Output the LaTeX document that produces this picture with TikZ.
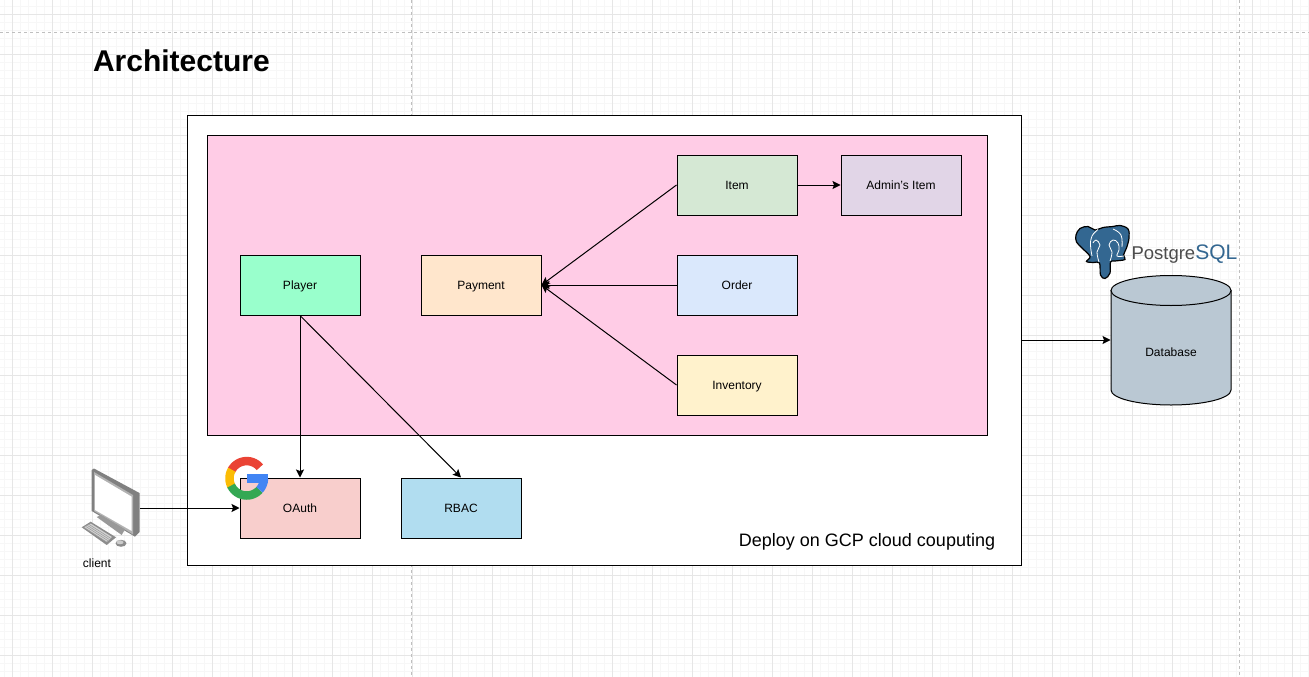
\documentclass[tikz,border=0pt]{standalone}
\usepackage{fontspec}
\setmainfont{Liberation Sans}
\usetikzlibrary{positioning,arrows.meta}
\definecolor{gridminor}{HTML}{F7F7F7}
\definecolor{gridmajor}{HTML}{E6E6E6}
\definecolor{pinkbg}{HTML}{FFCCE6}
\definecolor{dbgray}{HTML}{BAC8D3}
\definecolor{pgblue}{HTML}{336791}
\definecolor{gogred}{HTML}{EA4335}
\definecolor{gogyellow}{HTML}{FBBC05}
\definecolor{goggreen}{HTML}{34A853}
\definecolor{gogblue}{HTML}{4285F4}
\tikzstyle{box}=[draw,rectangle,minimum width=120pt,minimum height=60pt,inner sep=1pt,text height=10pt,text depth=2pt,font=\fontsize{12}{14}\selectfont]
\tikzstyle{link}=[->,line width=1pt]
\newcommand{\gogarc}[3]{\draw[#1,line width=8.5pt,domain=#2:#3,samples=24] plot ({246.7+17.2*cos(\x)},{478.3-17.2*sin(\x)});}

\begin{document}
\begin{tikzpicture}[x=1pt,y=-1pt,>={Stealth[length=8pt,width=8pt,inset=1.5pt]}, on grid, line width=1pt]
  \useasboundingbox (0,0) rectangle (1309,677);
  \fill[white] (0,0) rectangle (1309,677);
  % grid
  \foreach \gx in {4,12,...,1308} \draw[gridminor] (\gx,0) -- (\gx,677);
  \foreach \gy in {7,15,...,671} \draw[gridminor] (0,\gy) -- (1309,\gy);
  \foreach \gx in {12,52,...,1292} \draw[gridmajor] (\gx,0) -- (\gx,677);
  \foreach \gy in {15,55,...,655} \draw[gridmajor] (0,\gy) -- (1309,\gy);
  \draw[gray!50,dashed] (0,33) -- (1309,33);
  \draw[gray!50,dashed] (411,0) -- (411,677);
  \draw[gray!50,dashed] (1239,0) -- (1239,677);

  \node[anchor=base west,inner sep=0pt,font=\fontsize{30}{34}\selectfont\bfseries] (title) at (92.5,71) {Architecture};

  \node[draw,fill=white,minimum width=834pt,minimum height=450pt] (outer) at (604,340) {};
  \node[draw,fill=pinkbg,minimum width=780pt,minimum height=300pt] (inner) at (597,285) {};
  \node[anchor=base,inner sep=0pt,font=\fontsize{18}{22}\selectfont] (deploy) at (867,546) {Deploy on GCP cloud couputing};

  \node[box,fill={rgb,255:red,153;green,255;blue,204}] (player) at (300,285) {Player};
  \node[box,fill={rgb,255:red,255;green,230;blue,204},right=181pt of player] (payment) {Payment};
  \node[box,fill={rgb,255:red,218;green,232;blue,252},right=256pt of payment] (order) {Order};
  \node[box,fill={rgb,255:red,213;green,232;blue,212},above=100pt of order] (item) {Item};
  \node[box,fill={rgb,255:red,255;green,242;blue,204},below=100pt of order] (inventory) {Inventory};
  \node[box,fill={rgb,255:red,225;green,213;blue,231},right=164pt of item] (admin) {Admin's Item};
  \node[box,fill={rgb,255:red,248;green,206;blue,204},below=223pt of player] (oauth) {OAuth};
  \node[box,fill={rgb,255:red,177;green,221;blue,240},right=161pt of oauth] (rbac) {RBAC};

  % database cylinder
  \draw[fill=dbgray] (1111,290) -- (1111,390) .. controls (1111,398.3) and (1137.9,405) .. (1171,405) .. controls (1204.1,405) and (1231,398.3) .. (1231,390) -- (1231,290);
  \draw[fill=dbgray] (1171,290.5) ellipse (60pt and 15pt);
  \node[minimum width=120pt,minimum height=130pt,inner sep=0pt] (database) at (1171,340) {};
  \node[inner sep=0pt,font=\fontsize{12}{14}\selectfont] (dblabel) at (1171,352.5) {Database};

  % google logo
  \gogarc{gogred}{40}{152}
  \gogarc{gogyellow}{150}{208}
  \gogarc{goggreen}{205}{318}
  \gogarc{gogblue}{-42}{0}
  \fill[gogblue] (247.3,474.3) rectangle (268.3,482.7);

  % client computer
  \fill[gray] (91.7,470) -- (94,468.5) -- (139.5,493) -- (139.5,532) -- (135,536.7) -- (91.7,511) -- cycle;
  \fill[gray!60] (94,472) -- (133,495) -- (133,534.5) -- (94,511) -- cycle;
  \fill[white] (95,475) -- (131.7,496.7) -- (131.7,531) -- (95,510) -- cycle;
  \fill[gray!80] (96.7,517) -- (101,515) -- (125,529.3) -- (121.7,535) -- cycle;
  \fill[gray!90] (81.7,527.3) -- (90.7,521.7) -- (116,537.3) -- (106.7,545) -- cycle;
  \fill[gray!35] (84,527.3) -- (90.7,523.5) -- (112,537) -- (106.7,542) -- cycle;
  \foreach \kx in {0,.25,.5,.75} \draw[gray!80,line width=.5pt] ({84+6.7*\kx},{527.3-3.8*\kx}) -- ({106.7+5.3*\kx},{542-5*\kx});
  \fill[gray!90] (121,543.3) ellipse (5.5pt and 3.5pt);
  \fill[gray!40] (120,542.3) ellipse (3.5pt and 2pt);
  \coordinate (pc) at (140,508);
  \node[font=\fontsize{12}{14}\selectfont,inner sep=0pt] (client) at (97,563) {client};

  % postgres logo
  \draw[black,line width=1.2pt,fill=pgblue] plot[smooth cycle,tension=.6] coordinates {(1076,235) (1080,228.5) (1088,226.5) (1095,230) (1103,227.5) (1113,226.5) (1120,225.5) (1128,229) (1129,238) (1126.5,248) (1123.5,255) (1125,259.5) (1115,261) (1110.5,262) (1110,273) (1105,278.5) (1100.5,275) (1099.5,263) (1093.5,262.5) (1086.5,261.5) (1090,256.5) (1082,248) (1076.5,242)};
  \draw[white,line width=.8pt] plot[smooth,tension=.7] coordinates {(1092,256) (1090.5,245) (1092,236) (1098,229.5)};
  \draw[white,line width=.8pt] plot[smooth,tension=.7] coordinates {(1099,262) (1097,252) (1100,245) (1096,240) (1093,243)};
  \draw[white,line width=.8pt] plot[smooth,tension=.7] coordinates {(1110,261) (1112,252) (1109,245) (1113,240) (1118,243) (1119,250) (1117,256) (1124,256)};
  \draw[white,line width=.8pt] plot[smooth,tension=.7] coordinates {(1113,229) (1121,235) (1122,247)};

  \node[anchor=base west,inner sep=0pt,font=\fontsize{18.5}{24}\selectfont] (pgname) at (1131,259) {\textcolor{black!70}{Postgre}\textcolor{pgblue}{\fontsize{21}{24}\selectfont SQL}};

  % connectors
  \draw[link] (item) -- (admin);
  \draw[link] (item.west) -- (payment.east);
  \draw[link] (order) -- (payment);
  \draw[link] (inventory.west) -- (payment.east);
  \draw[link] (player) -- (oauth);
  \draw[link] (player.south) -- (rbac.north);
  \draw[link] (pc) -- (oauth);
  \draw[link] (outer) -- (database);
\end{tikzpicture}
\end{document}
